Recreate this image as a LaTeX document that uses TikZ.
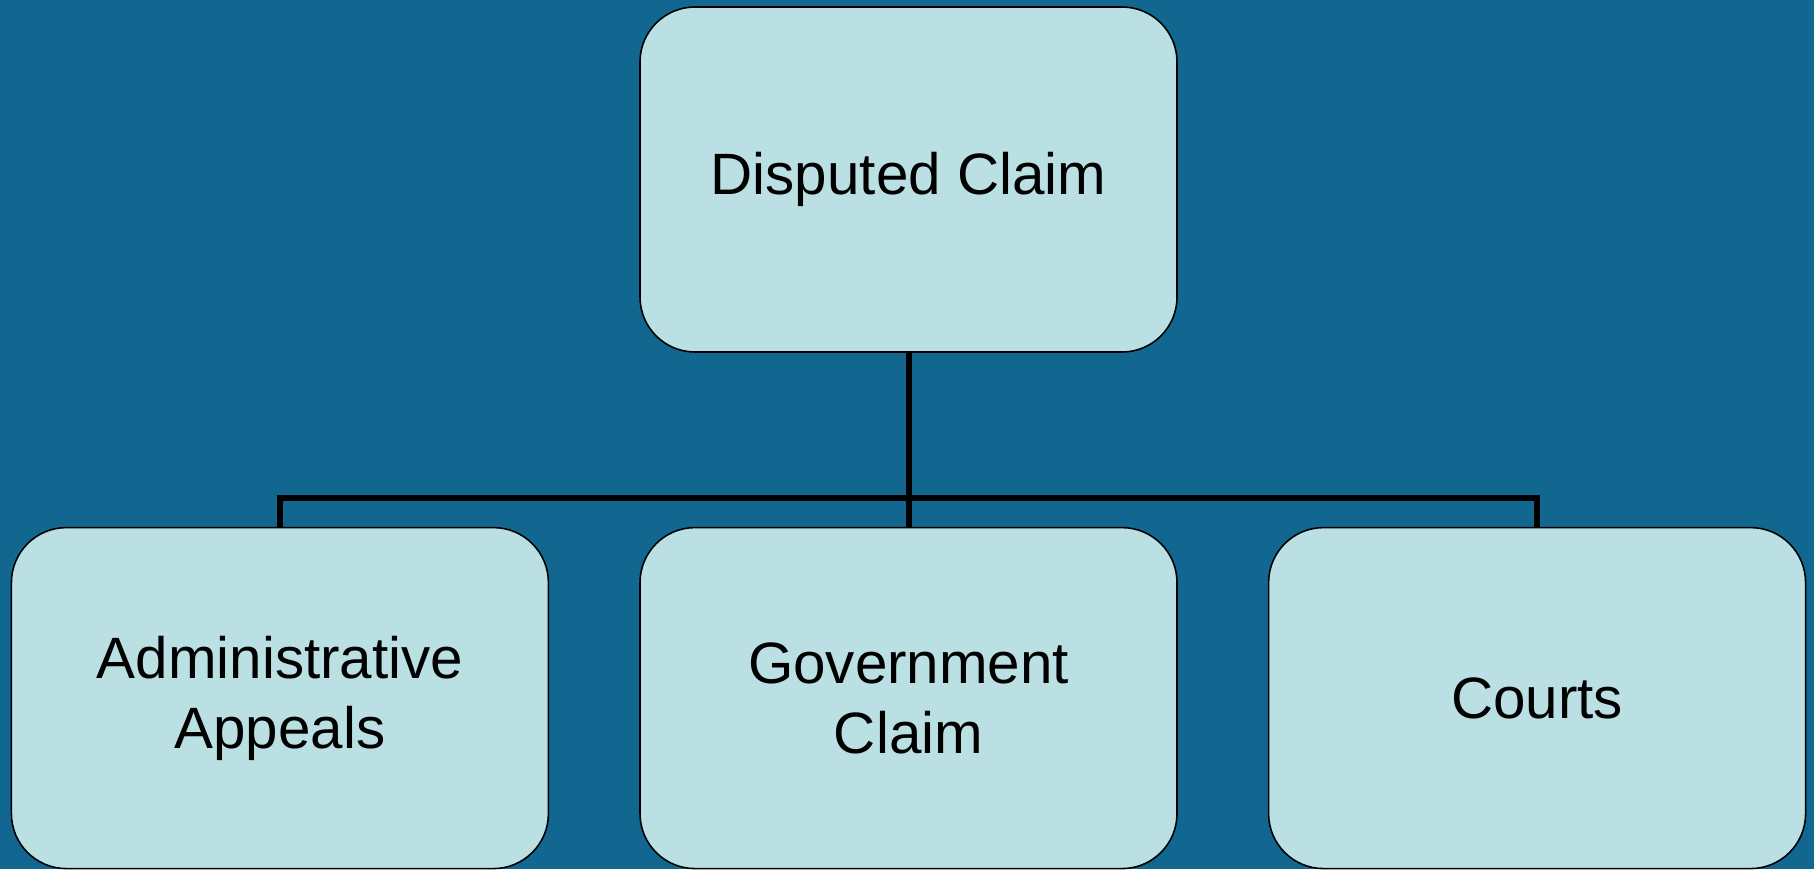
\documentclass[tikz,border=0pt]{standalone}
\usepackage{fontspec}
\setmainfont{Liberation Sans}
\usetikzlibrary{positioning}

\definecolor{slidebg}{RGB}{18,103,145}
\definecolor{boxfill}{RGB}{186,224,227}

\begin{document}
\begin{tikzpicture}[node distance=0.9cm,
    box/.style={draw=black, line width=0.45pt, fill=boxfill, rounded corners=0.55cm,
      minimum width=5.37cm, minimum height=3.41cm, inner sep=0pt, align=center,
      font=\fontsize{16.6}{20}\selectfont},
    conn/.style={draw=black, line width=1.7pt}]
    \fill[slidebg] (0,0) rectangle (18.14,-8.69);
    \useasboundingbox (0,0) rectangle (18.14,-8.69);

    \node[box, minimum height=3.45cm] at (9.085,-1.795)   (top){Disputed Claim};
    \node[box] [below=1.74cm of top]                        (gov){Government \\ Claim};
    \node[box] [left=of gov]                                (adm){Administrative \\ Appeals};
    \node[box] [right=of gov]                               (crt){Courts};

    \coordinate (bus) at (9.085,-4.98);

    \draw[conn] (top.south) -- (gov.north);
    \draw[conn] (bus) -| (adm.north);
    \draw[conn] (bus) -| (crt.north);
  \end{tikzpicture}
\end{document}
